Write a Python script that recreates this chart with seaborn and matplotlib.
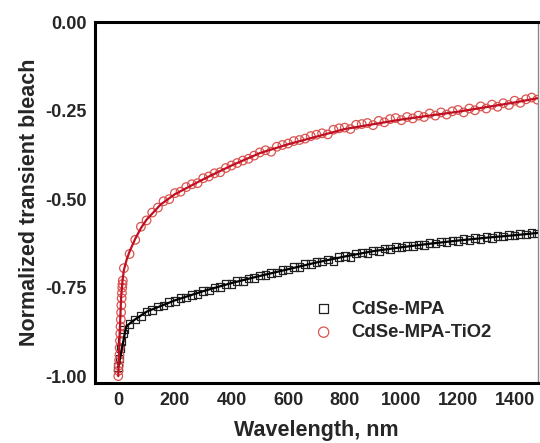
import matplotlib
matplotlib.use("Agg")
from matplotlib import pyplot as plt
from matplotlib.ticker import MultipleLocator
import numpy as np
import seaborn as sns

# measured points (shared time grid after the first ~20 nm)
time_grid = [20, 40, 60, 80, 100, 120, 140, 160, 180, 200, 220, 240, 260, 280, 300,
             320, 340, 360, 380, 400, 420, 440, 460, 480, 500, 520, 540, 560, 580, 600,
             620, 640, 660, 680, 700, 720, 740, 760, 780, 800, 820, 840, 860, 880, 900,
             920, 940, 960, 980, 1000, 1020, 1040, 1060, 1080, 1100, 1120, 1140, 1160,
             1180, 1200, 1220, 1240, 1260, 1280, 1300, 1320, 1340, 1360, 1380, 1400,
             1420, 1440, 1460, 1480]

tio2_early_t = [0, 1, 2, 3, 4, 5, 6, 7, 8, 9, 10, 11, 12, 13, 14, 15, 16]
tio2_early_y = [-1.0, -0.985, -0.97, -0.955, -0.94, -0.92, -0.90, -0.88, -0.86,
                -0.84, -0.82, -0.80, -0.78, -0.765, -0.75, -0.74, -0.73]
tio2_y = [-0.695, -0.655, -0.615, -0.578, -0.560, -0.538, -0.524, -0.506, -0.500,
          -0.483, -0.479, -0.466, -0.458, -0.455, -0.441, -0.436, -0.427, -0.424,
          -0.412, -0.405, -0.398, -0.391, -0.386, -0.377, -0.368, -0.362, -0.366,
          -0.352, -0.347, -0.343, -0.336, -0.333, -0.329, -0.322, -0.318, -0.314,
          -0.317, -0.304, -0.300, -0.298, -0.302, -0.290, -0.288, -0.285, -0.291,
          -0.279, -0.283, -0.274, -0.271, -0.277, -0.268, -0.272, -0.264, -0.268,
          -0.258, -0.264, -0.255, -0.261, -0.252, -0.248, -0.255, -0.244, -0.249,
          -0.238, -0.244, -0.233, -0.239, -0.229, -0.234, -0.222, -0.228, -0.218,
          -0.213, -0.219]

mpa_early_t = [0, 4, 8, 12, 16]
mpa_early_y = [-0.975, -0.95, -0.92, -0.90, -0.88]
mpa_y = [-0.868, -0.852, -0.840, -0.830, -0.818, -0.813, -0.803, -0.800, -0.791,
         -0.788, -0.780, -0.778, -0.770, -0.768, -0.760, -0.758, -0.750, -0.748,
         -0.740, -0.739, -0.732, -0.731, -0.724, -0.723, -0.716, -0.715, -0.708,
         -0.707, -0.700, -0.699, -0.692, -0.691, -0.684, -0.683, -0.677, -0.676,
         -0.670, -0.674, -0.663, -0.660, -0.664, -0.654, -0.651, -0.652, -0.645,
         -0.646, -0.640, -0.641, -0.636, -0.637, -0.632, -0.633, -0.628, -0.629,
         -0.624, -0.625, -0.620, -0.621, -0.617, -0.618, -0.613, -0.615, -0.610,
         -0.612, -0.607, -0.609, -0.604, -0.606, -0.601, -0.603, -0.598, -0.600,
         -0.595, -0.597]

# fitted curves
tio2_fit_t = [0, 3, 6, 10, 15, 20, 30, 40, 60, 80, 100, 150, 200, 300, 400, 500,
              600, 800, 1000, 1200, 1400, 1500]
tio2_fit_y = [-1.0, -0.93, -0.86, -0.78, -0.73, -0.70, -0.67, -0.648, -0.612,
              -0.582, -0.558, -0.515, -0.486, -0.444, -0.405, -0.370, -0.345,
              -0.302, -0.275, -0.253, -0.227, -0.212]
mpa_fit_t = [0, 28, 50, 100, 200, 300, 400, 500, 600, 700, 800, 900, 1000, 1100,
             1200, 1300, 1400, 1500]
mpa_fit_y = [-0.975, -0.86, -0.845, -0.818, -0.786, -0.760, -0.737, -0.717, -0.698,
             -0.679, -0.662, -0.647, -0.636, -0.626, -0.617, -0.609, -0.602, -0.594]

red_line = '#c00f22'
red_marker = '#d9534f'

sns.set_style('white')
plt.rcParams['font.family'] = ['Liberation Sans', 'DejaVu Sans']
plt.rcParams['font.weight'] = 'bold'

fig = plt.figure(figsize=(5.4, 4.43), dpi=100)
ax = fig.add_axes([0.176, 0.135, 0.82, 0.815])

sns.scatterplot(x=mpa_early_t + time_grid, y=mpa_early_y + mpa_y, ax=ax,
                marker='s', s=30, facecolors='none', edgecolor='#222222',
                linewidth=0.9, label='CdSe-MPA', zorder=2)
sns.scatterplot(x=tio2_early_t + time_grid, y=tio2_early_y + tio2_y, ax=ax,
                marker='o', s=38, facecolors='none', edgecolor=red_marker,
                linewidth=0.9, label='CdSe-MPA-TiO2', zorder=2)
sns.lineplot(x=mpa_fit_t, y=mpa_fit_y, ax=ax, color='black', linewidth=1.6,
             sort=False, legend=False, zorder=3)
sns.lineplot(x=tio2_fit_t, y=tio2_fit_y, ax=ax, color=red_line, linewidth=1.6,
             sort=False, legend=False, zorder=3)

ax.set_xlim(-82, 1482)
ax.set_ylim(-1.02, 0.0)
ax.xaxis.set_major_locator(MultipleLocator(200))
ax.xaxis.set_minor_locator(MultipleLocator(100))
ax.yaxis.set_major_locator(MultipleLocator(0.25))
ax.yaxis.set_minor_locator(MultipleLocator(0.05))
ax.yaxis.set_major_formatter(matplotlib.ticker.FormatStrFormatter('%.2f'))

ax.tick_params(which='both', direction='in', top=False, right=False, width=1.8,
               labelsize=13)
ax.tick_params(which='major', length=6, pad=6)
ax.tick_params(which='minor', length=3.5)
for side in ['left', 'bottom', 'top']:
    ax.spines[side].set_linewidth(2.2)
    ax.spines[side].set_color('black')
ax.spines['right'].set_linewidth(1.0)
ax.spines['right'].set_color('#888888')

ax.set_xlabel('Wavelength, nm', fontsize=15.5, fontweight='bold', labelpad=8)
ax.set_ylabel('Normalized transient bleach', fontsize=15.5, fontweight='bold',
              labelpad=4)

handles, labels = ax.get_legend_handles_labels()
ax.legend(handles, labels, loc='upper left', bbox_to_anchor=(0.437, 0.275),
          frameon=False, fontsize=13.3, handletextpad=0.5, labelspacing=0.35,
          markerscale=1.2)

fig.savefig('out.png', dpi=100)
